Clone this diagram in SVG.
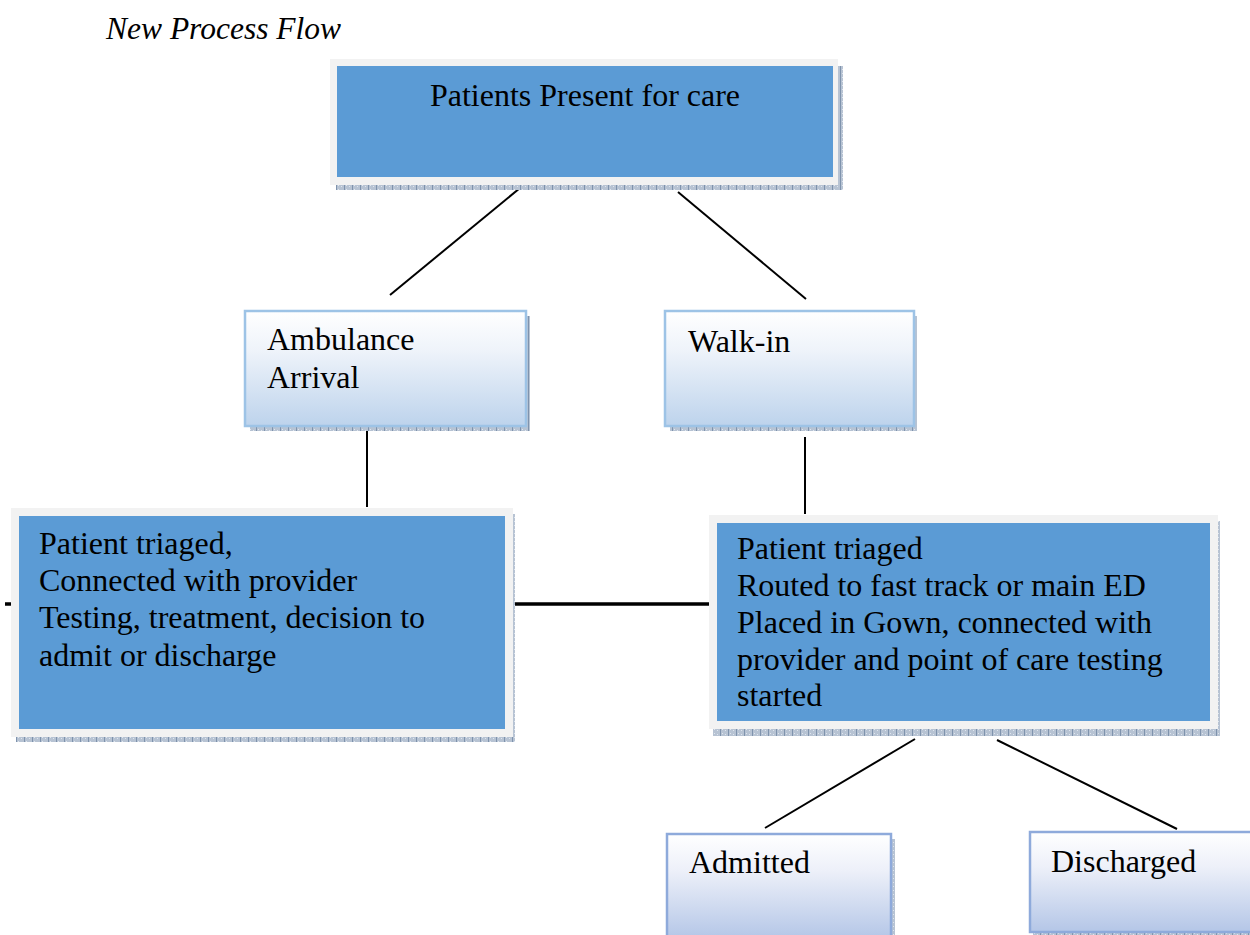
<svg xmlns="http://www.w3.org/2000/svg" width="1250" height="935" viewBox="0 0 1250 935">
<style>
.t{font-family:"Liberation Serif","Times New Roman",serif;font-size:32px;fill:#000}
.title{font-family:"Liberation Serif","Times New Roman",serif;font-size:31.5px;font-style:italic;fill:#000}
.frame{fill:#f2f2f2}
.blue{fill:#5b9bd5}
.sh{fill:url(#dots)}
.lt{fill:url(#gA);stroke:#9dc3e6;stroke-width:2.5}
.lt2{fill:url(#gB);stroke:#8eaadb;stroke-width:2.5}
.c{stroke:#000;stroke-width:2;fill:none}
.ck{stroke:#000;stroke-width:3.5;fill:none}
</style>
<defs>
<linearGradient id="gA" x1="0" y1="0" x2="0" y2="1">
<stop offset="0" stop-color="#ffffff"/>
<stop offset="0.35" stop-color="#eef3fa"/>
<stop offset="1" stop-color="#bdd3ec"/>
</linearGradient>
<linearGradient id="gB" x1="0" y1="0" x2="0" y2="1">
<stop offset="0" stop-color="#ffffff"/>
<stop offset="0.35" stop-color="#edf0f9"/>
<stop offset="1" stop-color="#b4c6e7"/>
</linearGradient>
<pattern id="dots" width="8" height="4" patternUnits="userSpaceOnUse">
<rect width="8" height="4" fill="#b7c3d3"/>
<rect x="0" y="0" width="1" height="4" fill="#7f93ad"/>
<rect x="2" y="1" width="1" height="1" fill="#dfe6ef"/>
<rect x="5" y="2" width="1" height="1" fill="#dfe6ef"/>
</pattern>
</defs>
<rect width="1250" height="935" fill="#fff"/>
<text class="title" x="106" y="39">New Process Flow</text>

<g id="connectors">
<line class="c" x1="520" y1="188" x2="390" y2="295"/>
<line class="c" x1="678" y1="192" x2="806" y2="299"/>
<line class="c" x1="367" y1="431" x2="367" y2="507"/>
<line class="c" x1="805" y1="437" x2="805" y2="514"/>
<line class="ck" x1="513" y1="604" x2="709" y2="604"/>
<line class="ck" x1="5" y1="604" x2="12" y2="604"/>
<line class="c" x1="915" y1="739" x2="765" y2="828"/>
<line class="c" x1="997" y1="740" x2="1177" y2="829"/>
</g>

<g id="n-present">
<rect class="sh" x="336" y="66" width="507" height="124"/>
<rect class="frame" x="330" y="59" width="508" height="126"/>
<rect class="blue" x="337" y="66" width="496" height="111"/>
<text class="t" x="585" y="106" text-anchor="middle">Patients Present for care</text>
</g>

<g id="n-ambulance">
<rect class="sh" x="250" y="316" width="280" height="115"/>
<rect class="lt" x="245" y="311" width="281" height="115"/>
<text class="t" x="267" y="350">Ambulance</text>
<text class="t" x="267" y="388">Arrival</text>
</g>

<g id="n-walkin">
<rect class="sh" x="670" y="316" width="247" height="115"/>
<rect class="lt" x="665" y="311" width="249" height="115"/>
<text class="t" x="688" y="352">Walk-in</text>
</g>

<g id="n-left">
<rect class="sh" x="16" y="514" width="499" height="228"/>
<rect class="frame" x="11" y="508" width="502" height="229"/>
<rect class="blue" x="19" y="516" width="486" height="213"/>
<text class="t" x="39" y="554">Patient triaged,</text>
<text class="t" x="39" y="591">Connected with provider</text>
<text class="t" x="39" y="628">Testing, treatment, decision to</text>
<text class="t" x="39" y="666">admit or discharge</text>
</g>

<g id="n-right">
<rect class="sh" x="713" y="521" width="507" height="215"/>
<rect class="frame" x="709" y="515" width="509" height="214"/>
<rect class="blue" x="717" y="523" width="493" height="198"/>
<text class="t" x="737" y="559">Patient triaged</text>
<text class="t" x="737" y="596">Routed to fast track or main ED</text>
<text class="t" x="737" y="633">Placed in Gown, connected with</text>
<text class="t" x="737" y="670">provider and point of care testing</text>
<text class="t" x="737" y="706">started</text>
</g>

<g id="n-admitted">
<rect class="sh" x="671" y="839" width="224" height="100"/>
<rect class="lt2" x="667" y="834" width="224" height="105"/>
<text class="t" x="689" y="873">Admitted</text>
</g>

<g id="n-discharged">
<rect class="sh" x="1033" y="837" width="220" height="100"/>
<rect class="lt2" x="1030" y="832" width="224" height="100"/>
<text class="t" x="1051" y="872">Discharged</text>
</g>
</svg>
